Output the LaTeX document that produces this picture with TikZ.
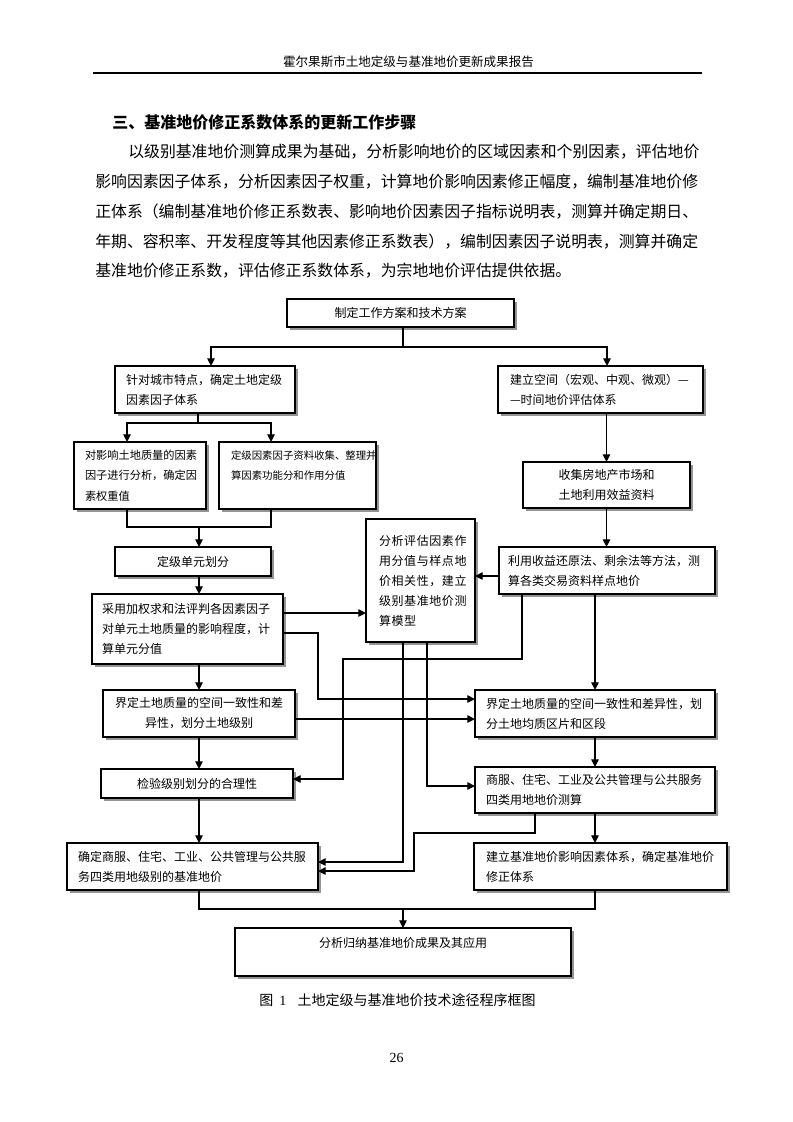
\documentclass[tikz,border=0pt]{standalone}
\usepackage{fontspec}
\setmainfont{Liberation Serif}
\newfontfamily\cjk{Noto Sans CJK SC}
\newfontfamily\cjkls[LetterSpace=5]{Noto Sans CJK SC}
\usetikzlibrary{arrows.meta,calc,shadows}

% name, left, top, right, bottom, pad (px), options, text
\newcommand\mybox[8]{%
  \pgfmathsetmacro\bw{(#4-#2)*0.75}%
  \pgfmathsetmacro\bh{(#5-#3)*0.75}%
  \pgfmathsetmacro\tw{(#4-#2-2*#6)*0.75}%
  \pgfmathsetmacro\ip{#6*0.75}%
  \node[box, anchor=north west, minimum width=\bw pt, minimum height=\bh pt,
        text width=\tw pt, inner xsep=\ip pt, #7] (#1) at (#2,#3) {#8};%
}

\begin{document}
\begin{tikzpicture}[x=0.75pt,y=-0.75pt,
  box/.style={draw, line width=1.1pt, fill=white, outer sep=0pt, inner ysep=0pt,
    drop shadow={shadow xshift=2.4pt, shadow yshift=-2.4pt, fill=black!42, opacity=1},
    font=\cjk\fontsize{9}{15}\selectfont},
  line/.style={line width=1.05pt},
  arr/.style={line, -{Triangle[length=5.8pt,width=5.6pt]}},
  txt/.style={inner sep=0pt, anchor=west}]

\fill[white] (0,0) rectangle (793,1122);
\useasboundingbox (0,0) rectangle (793,1122);

% header
\node[txt, anchor=center, font=\cjk\fontsize{9.4}{12}\selectfont] (hdr) at (408.5,62) {霍尔果斯市土地定级与基准地价更新成果报告};
\draw[line width=1.2pt] (93,73) -- (702,73);

% title and paragraph
\node[txt, font=\cjk\bfseries\fontsize{12}{14}\selectfont] (title) at (112,122) {三、基准地价修正系数体系的更新工作步骤};
\begin{scope}[every node/.style={txt, font=\cjk\fontsize{11.9}{14}\selectfont}]
\node (p1) at (128,152) {以级别基准地价测算成果为基础，分析影响地价的区域因素和个别因素，评估地价};
\node (p2) at (95,182) {影响因素因子体系，分析因素因子权重，计算地价影响因素修正幅度，编制基准地价修};
\node (p3) at (95,212) {正体系（编制基准地价修正系数表、影响地价因素因子指标说明表，测算并确定期日、};
\node (p4) at (95,242) {年期、容积率、开发程度等其他因素修正系数表），编制因素因子说明表，测算并确定};
\node (p5) at (95,271) {基准地价修正系数，评估修正系数体系，为宗地地价评估提供依据。};
\end{scope}

% boxes
\mybox{top}{287}{299}{514}{327}{8}{align=center}{制定工作方案和技术方案}
\mybox{A}{115}{366}{295}{413}{11}{align=left}{针对城市特点，确定土地定级\\因素因子体系}
\mybox{B}{498}{366}{703}{413}{12}{align=left}{建立空间（宏观、中观、微观）—\\—时间地价评估体系}
\mybox{A1}{74}{442}{206}{509}{11}{align=left, font=\cjk\fontsize{8.4}{15.4}\selectfont}{对影响土地质量的因素\\因子进行分析，确定因\\素权重值}
\mybox{A2}{219}{442}{376}{509}{12}{align=left, font=\cjk\fontsize{7.8}{15.4}\selectfont}{定级因素因子资料收集、整理并\\算因素功能分和作用分值\\\mbox{}}
\mybox{C}{523}{462}{690}{508}{8}{align=center}{收集房地产市场和\\土地利用效益资料}
\mybox{D}{115}{547}{271}{576}{8}{align=center}{定级单元划分}
\mybox{M}{366}{519}{475}{642}{13}{align=left, font=\cjkls\fontsize{9}{15}\selectfont}{分析评估因素作\\用分值与样点地\\价相关性，建立\\级别基准地价测\\算模型}
\mybox{E}{499}{547}{715}{594}{9}{align=left}{利用收益还原法、剩余法等方法，测\\算各类交易资料样点地价}
\mybox{F}{92}{594}{283}{664}{10}{align=left}{采用加权求和法评判各因素因子\\对单元土地质量的影响程度，计\\算单元分值}
\mybox{G}{103}{690}{295}{737}{8}{align=center}{界定土地质量的空间一致性和差\\异性，划分土地级别}
\mybox{H}{475}{690}{715}{737}{11}{align=left}{界定土地质量的空间一致性和差异性，划\\分土地均质区片和区段}
\mybox{I}{101}{769}{293}{798}{8}{align=center}{检验级别划分的合理性}
\mybox{J}{475}{767}{715}{813}{11}{align=left}{商服、住宅、工业及公共管理与公共服务\\四类用地地价测算}
\mybox{K}{67}{843}{318}{890}{11}{align=left}{确定商服、住宅、工业、公共管理与公共服\\务四类用地级别的基准地价}
\mybox{L}{474}{843}{727}{890}{12}{align=left}{建立基准地价影响因素体系，确定基准地价\\修正体系}
\mybox{N}{235}{928}{571}{976}{8}{align=center}{分析归纳基准地价成果及其应用\\\mbox{}}

% connectors
\coordinate (j0) at (403,347);
\draw[line] (top.south -| j0) -- (j0);
\draw[arr] (j0) -| ($(A.north)+(6,0)$);
\draw[arr] (j0) -| ($(B.north)+(6.5,0)$);

\coordinate (j1) at (198,423);
\draw[line] (A.south -| j1) -- (j1);
\draw[arr] (j1) -| ($(A1.north)+(-13,0)$);
\draw[arr] (j1) -| ($(A2.north)+(-26.5,0)$);

\coordinate (j2) at (199,527);
\draw[line] ($(A1.south)+(-13,0)$) |- (j2) -| ($(A2.south)+(-26.5,0)$);
\draw[arr] (j2) -- (j2 |- D.north);

\draw[arr] (B.south -| C.north) -- (C.north);
\draw[arr] (C.south) -- (C.south |- E.north);
\coordinate (e1) at ($(E.west)+(0,5.5)$);
\draw[arr] (e1) -- (e1 -| M.east);

\coordinate (d1) at ($(D.south)+(6,0)$);
\draw[arr] (d1) -- (d1 |- F.north);

\coordinate (f1) at ($(F.east)+(0,-16)$);
\draw[arr] (f1) -- (f1 -| M.west);
\coordinate (f2) at ($(F.east)+(0,4)$);
\coordinate (f3) at (318,699);
\draw[arr] (f2) -| (f3) -- (f3 -| H.west);

\draw[arr] (G.north |- F.south) -- (G.north);
\coordinate (g1) at ($(G.east)+(0,5.5)$);
\draw[arr] (g1) -- (g1 -| H.west);

\coordinate (e2) at ($(E.south)+(-85,0)$);
\coordinate (e3) at (343,659);
\coordinate (i1) at ($(I.east)+(0,-4.5)$);
\draw[arr] (e2) |- (e3) |- (i1);

\draw[arr] (H.north |- E.south) -- (H.north);
\draw[arr] (G.south) -- (G.south |- I.north);
\draw[arr] (H.south) -- (J.north);

\coordinate (m1) at ($(M.south)+(6.5,0)$);
\draw[arr] (m1) |- ($(J.west)+(0,-4)$);
\coordinate (m2) at ($(M.south)+(-17.5,0)$);
\draw[arr] (m2) |- ($(K.east)+(0,-4.5)$);

\coordinate (jj1) at ($(J.south)+(-60,0)$);
\coordinate (jj2) at (414,833);
\draw[arr] (jj1) |- (jj2) |- ($(K.east)+(0,4.5)$);

\draw[arr] (J.south) -- (J.south |- L.north);
\coordinate (i2) at ($(I.south)+(2,0)$);
\draw[arr] (i2) -- (i2 |- K.north);

\coordinate (j4) at (403,909);
\draw[line] ($(K.south)+(6.5,0)$) |- (j4) -| ($(L.south)+(-5.5,0)$);
\draw[arr] (j4) -- (N.north);

% caption and page number
\node[txt, font=\fontsize{10.5}{12}\selectfont] (cap) at (259,1000) {{\cjk 图}\hspace{4.5pt}1\hspace{8.5pt}{\cjk 土地定级与基准地价技术途径程序框图}};
\node[anchor=center, inner sep=0pt, font=\fontsize{10.5}{12}\selectfont] (pg) at (396.5,1058) {26};
\end{tikzpicture}
\end{document}
